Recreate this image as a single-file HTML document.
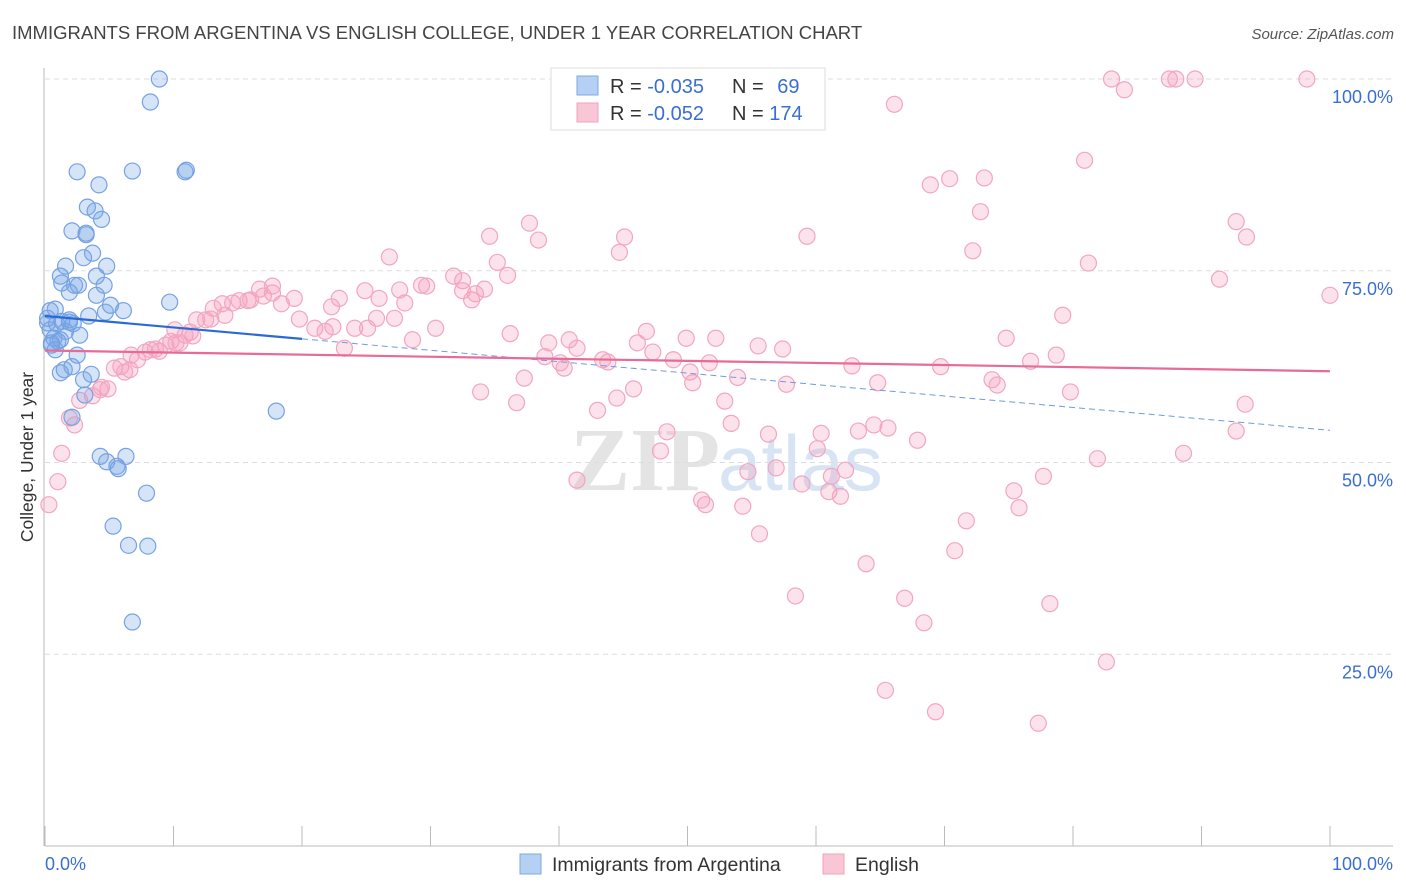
<!DOCTYPE html>
<html><head><meta charset="utf-8"><style>
body{margin:0;background:#fff;width:1406px;height:892px;overflow:hidden;font-family:"Liberation Sans",sans-serif}
svg{display:block}
</style></head><body>
<svg id="chart" width="1406" height="892">
<text x="12" y="39" font-size="18.5" fill="#444">IMMIGRANTS FROM ARGENTINA VS ENGLISH COLLEGE, UNDER 1 YEAR CORRELATION CHART</text>
<text x="1394" y="39" font-size="15" fill="#555" font-style="italic" text-anchor="end">Source: ZipAtlas.com</text>
<text transform="translate(33,457) rotate(-90)" font-size="17.5" fill="#333" text-anchor="middle">College, Under 1 year</text>
<text x="720" y="490" font-size="90" fill="#e4e4e4" text-anchor="end" font-family="Liberation Serif,serif" font-weight="bold">ZIP</text>
<text x="718" y="490" font-size="78" fill="#d6e4f4">atlas</text>
<g id="grid"></g><g id="axes"></g><g id="pink"></g><g id="blue"></g><g id="trends"></g>
<g>
<rect x="551" y="68" width="274" height="62" fill="#fff" stroke="#ddd"/>
<rect x="577" y="76" width="21" height="19" fill="#b5d0f3" stroke="#7fa8e6"/>
<rect x="577" y="103" width="21" height="19" fill="#f9c6d6" stroke="#f0a3bd"/>
<text x="610" y="93" font-size="20" fill="#333">R = <tspan fill="#3a6fd0">-0.035</tspan></text>
<text x="732" y="93" font-size="20" fill="#333">N = <tspan fill="#3a6fd0" dx="8">69</tspan></text>
<text x="610" y="120" font-size="20" fill="#333">R = <tspan fill="#3a6fd0">-0.052</tspan></text>
<text x="732" y="120" font-size="20" fill="#333">N = <tspan fill="#3a6fd0">174</tspan></text>
</g>
<g>
<rect x="520" y="854" width="21" height="20" fill="#b5d0f3" stroke="#7fa8e6"/>
<text x="552" y="871" font-size="19.5" fill="#333">Immigrants from Argentina</text>
<rect x="823" y="854" width="21" height="20" fill="#f9c6d6" stroke="#f0a3bd"/>
<text x="855" y="871" font-size="19.5" fill="#333">English</text>
</g>
</svg>
<script>
const yTicks=[100,75,50,25];
const yTickLabels=["100.0%","75.0%","50.0%","25.0%"];
const xTickLabels=["0.0%","100.0%"];
const blueX=[8.9,8.2,2.5,4.2,6.8,11.0,10.9,3.3,3.9,4.4,2.1,3.2,3.2,3.7,3.0,1.6,4.8,1.2,4.0,2.3,1.3,2.6,4.6,1.9,4.0,9.7,5.1,4.7,6.1,0.8,0.4,3.4,1.3,1.9,0.9,0.2,2.2,1.6,2.7,0.7,0.5,1.0,2.5,3.6,1.2,1.5,2.1,3.0,3.1,2.1,18.0,4.3,6.3,4.8,5.6,5.7,7.9,5.3,6.5,8.0,6.8,0.8,1.2,0.4,0.2,1.9,0.5];
const blueY=[100,97.0,87.9,86.2,88.0,88.1,87.9,83.3,82.8,81.7,80.2,79.9,79.7,77.3,76.7,75.6,75.6,74.3,74.3,73.1,73.4,73.1,73.1,72.2,71.8,70.9,70.5,69.6,69.8,70.0,69.8,69.1,68.4,68.3,68.1,68.2,68.1,67.1,66.6,66.2,65.6,65.8,64.0,61.5,61.7,62.1,62.5,60.8,58.8,55.9,56.7,50.8,50.8,50.1,49.5,49.2,46.0,41.7,39.2,39.1,29.2,64.7,66.0,67.3,68.8,68.6,65.3];
const pinkX=[83.0,84.0,87.5,88.0,89.5,98.2,66.1,80.9,68.9,70.4,73.1,72.8,37.7,92.7,34.6,38.4,45.1,59.3,93.5,72.2,26.8,44.7,35.2,81.2,36.0,91.4,100,31.8,32.5,29.3,29.7,27.6,24.9,26.0,22.9,16.7,17.7,17.7,19.4,18.4,13.8,14.6,15.1,15.8,13.1,22.3,28.0,33.2,34.2,32.5,33.5,11.8,12.5,12.9,19.8,25.8,27.2,21.0,22.4,24.1,25.1,21.8,30.4,11.3,10.9,11.5,9.8,9.4,10.2,8.6,8.9,6.7,7.8,7.2,23.3,28.6,36.2,39.2,40.8,41.4,46.1,46.8,49.9,52.2,55.5,57.4,74.8,79.2,78.7,76.7,38.9,40.1,40.4,43.4,43.8,47.3,48.9,51.7,50.2,50.4,53.9,62.8,64.8,69.7,73.7,74.1,57.7,45.8,33.9,37.3,44.5,43.0,52.9,79.8,36.7,5.4,5.9,6.2,4.9,4.4,3.7,2.7,1.9,2.3,1.3,1.0,0.3,48.4,53.4,56.3,60.4,63.3,64.5,65.6,67.9,93.4,92.7,47.9,41.4,54.7,56.9,58.9,61.2,62.3,60.1,61.0,61.9,51.1,51.4,54.3,81.9,88.6,77.7,75.4,75.8,71.7,55.6,70.8,63.9,58.4,66.9,78.2,68.4,82.6,65.4,69.3,77.3,4.3,6.6,8.2,10.1,14.0,16.0,17.0,10.5];
const pinkY=[100,98.6,100,100,100,100,96.7,89.4,86.2,87.0,87.1,82.7,81.2,81.4,79.5,79.0,79.4,79.5,79.4,77.6,76.8,77.4,76.1,76.0,74.4,73.9,71.8,74.3,73.7,73.1,73.0,72.5,72.4,71.4,71.4,72.6,73.0,72.1,71.4,70.7,70.7,70.8,71.1,71.1,70.1,70.3,70.8,71.2,72.6,72.4,72.0,68.6,68.6,68.7,68.7,68.8,68.8,67.5,67.7,67.5,67.5,67.1,67.5,67.0,66.6,66.5,65.8,65.3,65.6,64.8,64.5,64.0,64.4,63.4,64.9,66.0,66.8,65.6,66.0,64.9,65.6,67.1,66.2,66.2,65.2,64.8,66.2,69.2,64.0,63.2,63.8,63.0,62.3,63.4,63.1,64.4,63.4,63.0,61.8,60.4,61.1,62.6,60.4,62.5,60.8,60.1,60.2,59.6,59.2,61.0,58.4,56.8,58.0,59.2,57.8,62.3,62.5,61.8,59.6,59.8,58.7,58.1,55.8,54.9,51.2,47.5,44.5,54.0,55.1,53.7,53.8,54.1,54.9,54.5,52.9,57.6,54.1,51.5,47.7,48.8,49.3,47.2,48.2,49.0,51.8,46.2,45.6,45.1,44.5,44.3,50.5,51.2,48.2,46.3,44.1,42.4,40.7,38.5,36.8,32.6,32.3,31.6,29.1,24.0,20.3,17.5,16.0,59.5,62.1,64.7,67.3,69.2,71.2,71.7,65.6];
const blueTrend=[69.1,54.2];
const pinkTrend=[64.6,61.9];

const NS="http://www.w3.org/2000/svg";
const X0=45,X1=1330,Y0=846,Y1=79;
const sx=v=>X0+(X1-X0)*v/100;
const sy=v=>Y0-(Y0-Y1)*v/100;
function mk(tag,attrs,parent){const e=document.createElementNS(NS,tag);for(const k in attrs)e.setAttribute(k,attrs[k]);parent.appendChild(e);return e;}
const grid=document.getElementById('grid'),axes=document.getElementById('axes');
yTicks.forEach((t,i)=>{
  const l=mk('line',{x1:X0,x2:1393,y1:sy(t),y2:sy(t),stroke:'#ddd','stroke-dasharray':'5,4'},grid);
  
  
  const tx=mk('text',{x:1393,y:sy(t)+24,'font-size':18,fill:'#3a6fd0','text-anchor':'end'},axes);
  tx.textContent=yTickLabels[i];
  
  
});
const ax=mk('line',{x1:44,x2:44,y1:68,y2:Y0,stroke:'#bbb'},axes);


const bx=mk('line',{x1:X0,x2:1393,y1:Y0,y2:Y0,stroke:'#bbb'},axes);


for(let i=0;i<=10;i++){
  const t=mk('line',{x1:sx(i*10),x2:sx(i*10),y1:826,y2:Y0,stroke:'#bbb'},axes);
  
  
}
[[0,'start',X0],[100,'end',1393]].forEach((d,i)=>{
  const t=mk('text',{x:d[2],y:870,'font-size':18,fill:'#3a6fd0','text-anchor':d[1]},axes);
  t.textContent=xTickLabels[i];
  
  
});
const pg=document.getElementById('pink'),bg=document.getElementById('blue');
pinkX.forEach((x,i)=>{
  const c=mk('circle',{cx:sx(x),cy:sy(pinkY[i]),r:8,fill:'rgba(244,160,190,0.3)',stroke:'#f2a6c0','stroke-width':1.2},pg);
  
  
});
blueX.forEach((x,i)=>{
  const c=mk('circle',{cx:sx(x),cy:sy(blueY[i]),r:8,fill:'rgba(120,165,230,0.3)',stroke:'#76a2e4','stroke-width':1.2},bg);
  
  
});
const tg=document.getElementById('trends');
const bAt=x=>blueTrend[0]+(blueTrend[1]-blueTrend[0])*x/100;
const t1=mk('line',{x1:sx(0),y1:sy(bAt(0)),x2:sx(20),y2:sy(bAt(20)),stroke:'#2a6ad6','stroke-width':2.2},tg);


const t2=mk('line',{x1:sx(20),y1:sy(bAt(20)),x2:sx(100),y2:sy(bAt(100)),stroke:'#6d9ce0','stroke-width':1,'stroke-dasharray':'6,4'},tg);


const t3=mk('line',{x1:sx(0),y1:sy(pinkTrend[0]),x2:sx(100),y2:sy(pinkTrend[1]),stroke:'#e86a98','stroke-width':2.2},tg);


</script>
</body></html>
